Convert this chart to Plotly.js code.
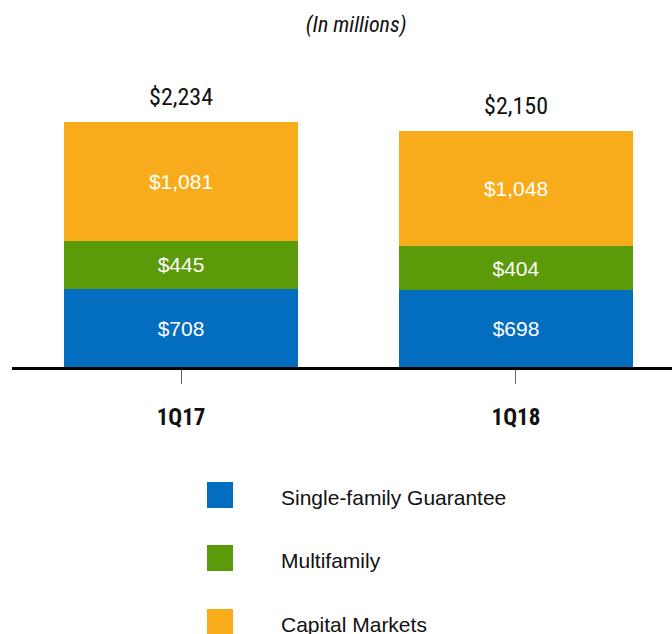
<!DOCTYPE html>
<html>
<head>
<meta charset="utf-8">
<script src="https://cdn.plot.ly/plotly-3.0.1.min.js"></script>
<style>
html,body{margin:0;padding:0;background:#fff;}
#chart{width:672px;height:634px;}
#chart .gtitle, #chart .xtick text { font-stretch: condensed; }
</style>
</head>
<body>
<div id="chart"></div>
<script>
const categories = ["1Q17", "1Q18"];
const seriesNames = ["Single-family Guarantee", "Multifamily", "Capital Markets"];
const singleFamily = [708, 698];
const multifamily = [445, 404];
const capitalMarkets = [1081, 1048];
const totals = [2234, 2150];
const colors = ["#036DBF", "#5B9A08", "#F9AC1B"];

const NARROW = "Roboto, Liberation Sans Narrow, Arial Narrow, sans-serif";
const REGULAR = "Liberation Sans, Arial, sans-serif";

const seriesValues = [singleFamily, multifamily, capitalMarkets];
const traces = seriesValues.map((vals, i) => ({
  type: "bar",
  name: seriesNames[i],
  x: categories,
  y: vals,
  width: 0.7,
  marker: {color: colors[i], line: {width: 0}},
  text: vals.map(v => "$" + v.toLocaleString("en-US")),
  textposition: "inside",
  insidetextanchor: "middle",
  textangle: 0,
  textfont: {family: REGULAR, size: 21, color: "#ffffff"},
  hoverinfo: "skip",
  showlegend: false
}));

const W = 672, L = 12, T = 60, B = 267, H = 634;
const plotW = W - L, plotH = H - T - B;
const px2paperX = X => (X - L) / plotW;
const px2paperY = Y => (H - B - Y) / plotH;

const annotations = categories.map((c, i) => ({
  x: c, y: totals[i], xref: "x", yref: "y",
  text: "$" + totals[i].toLocaleString("en-US"),
  showarrow: false, yanchor: "bottom", yshift: 9,
  font: {family: NARROW, size: 24, color: "#111111"}
}));

const shapes = [];
const legendY = [495, 558, 622];
seriesNames.forEach((n, i) => {
  shapes.push({
    type: "rect", xref: "paper", yref: "paper",
    x0: px2paperX(207), x1: px2paperX(233),
    y0: px2paperY(legendY[i] - 13), y1: px2paperY(legendY[i] + 13),
    fillcolor: colors[i], line: {width: 0}
  });
  annotations.push({
    xref: "paper", yref: "paper",
    x: px2paperX(279), y: px2paperY(legendY[i] + 2),
    xanchor: "left", yanchor: "middle",
    text: n, showarrow: false,
    font: {family: REGULAR, size: 21, color: "#111111"}
  });
});

const layout = {
  width: W, height: H,
  margin: {l: L, r: 0, t: T, b: B, pad: 0},
  paper_bgcolor: "#ffffff", plot_bgcolor: "#ffffff",
  barmode: "stack",
  showlegend: false,
  title: {
    text: "<i>(In millions)</i>",
    x: 0.53, xanchor: "center", y: 1 - 24 / H, yanchor: "middle",
    font: {family: NARROW, size: 22, color: "#111111"}
  },
  xaxis: {
    type: "category",
    range: [-0.5045, 1.4657],
    showline: true, linecolor: "#000000", linewidth: 3,
    ticks: "outside", ticklen: 14, tickwidth: 1, tickcolor: "#666666",
    ticklabelstandoff: 13,
    tickfont: {family: NARROW, size: 23, color: "#111111", weight: "bold"},
    showgrid: false, zeroline: false, fixedrange: true
  },
  yaxis: {
    range: [0, 2798.5],
    visible: false, showgrid: false, zeroline: false, fixedrange: true
  },
  annotations: annotations,
  shapes: shapes,
  font: {family: REGULAR}
};

Plotly.newPlot("chart", traces, layout, {displayModeBar: false, staticPlot: true}).then(gd => {
  const anns = gd.querySelectorAll(".annotation");
  for (let i = 0; i < categories.length && i < anns.length; i++) {
    anns[i].querySelectorAll("text").forEach(t => t.style.fontStretch = "condensed");
  }
});
</script>
</body>
</html>
